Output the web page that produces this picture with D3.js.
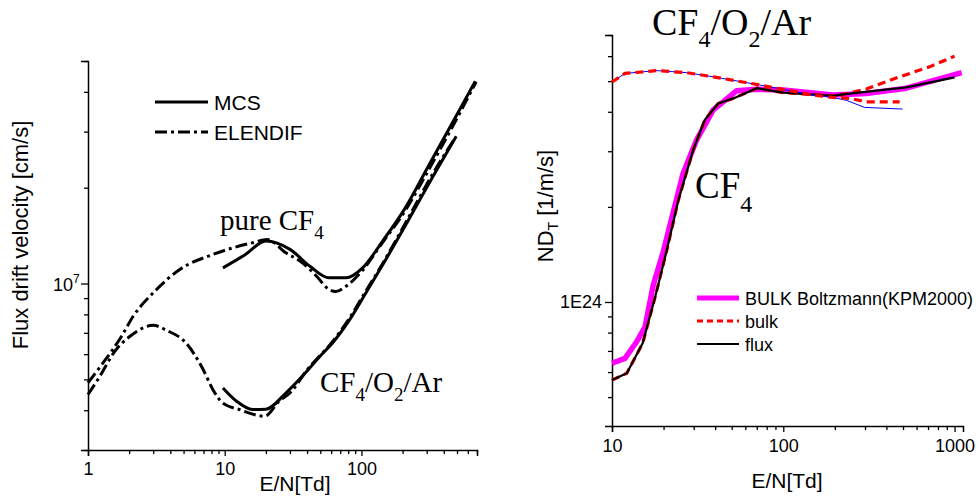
<!DOCTYPE html>
<html>
<head>
<meta charset="utf-8">
<script src="https://cdn.jsdelivr.net/npm/d3@7"></script>
<style>
body { margin: 0; background: #fff; }
svg { display: block; }
text { font-family: "Liberation Sans", Arial, sans-serif; fill: #000; }
.serif { font-family: "Liberation Serif", "Times New Roman", serif; }
</style>
</head>
<body>
<svg id="chart" width="980" height="504"></svg>
<script>
"use strict";
// left panel: flux drift velocity [cm/s] vs E/N [Td]
const pureMCS = [[9.7, 1.12e7], [14, 1.23e7], [20, 1.36e7], [30, 1.28e7], [42, 1.133e7], [58, 1.042e7],
    [77, 1.042e7], [102, 1.12e7], [142, 1.355e7], [206, 1.71e7], [314, 2.37e7], [478, 3.28e7], [680, 4.32e7]];
const pureELENDIF = [[1, 4.88e6], [1.26, 5.56e6], [1.76, 6.83e6], [2.14, 7.89e6], [3.08, 9.46e6], [4.69, 1.107e7],
    [8.2, 1.234e7], [11.5, 1.295e7], [16, 1.343e7], [20.5, 1.375e7], [28, 1.249e7], [37, 1.162e7], [47, 1.054e7],
    [58, 9.57e6], [65, 9.44e6], [77, 9.8e6], [100, 1.09e7], [140, 1.33e7], [210, 1.7e7], [320, 2.33e7],
    [480, 3.2e7], [690, 4.3e7]];
const mixMCS = [[9.7, 4.7e6], [12.2, 4.27e6], [16, 4.02e6], [20, 4.03e6], [28, 4.53e6], [39.7, 5.29e6], [49.4, 5.89e6],
    [61.7, 6.52e6], [82, 7.7e6], [105, 9.17e6], [142, 1.139e7], [224, 1.6e7], [330, 2.154e7], [493, 2.9e7]];
const mixELENDIF = [[1, 4.48e6], [1.22, 5.11e6], [1.57, 6.12e6], [2.03, 6.83e6], [3, 7.39e6], [3.75, 7.13e6],
    [5.2, 6.51e6], [6.95, 5.37e6], [8.2, 4.64e6], [9.7, 4.21e6], [12.8, 4.02e6], [19.6, 3.83e6], [25, 4.27e6],
    [30, 4.53e6], [40, 5.35e6], [62, 6.6e6], [82, 7.8e6], [105, 9.3e6], [142, 1.15e7], [224, 1.63e7],
    [330, 2.2e7], [480, 2.85e7]];
const leftXTicks = [1, 2, 3, 4, 5, 6, 7, 8, 9, 10, 20, 30, 40, 50, 60, 70, 80, 90, 100, 200, 300, 400, 500, 600, 700];
const leftXMajor = [1, 10, 100];
const leftYTicks = [3e6, 4e6, 5e6, 6e6, 7e6, 8e6, 9e6, 1e7, 2e7, 3e7, 4e7, 5e7];
const leftYMajor = [1e7];

// right panel: ND_T [1/m/s] vs E/N [Td]
const mixFlux = [[10, 4.97e24], [11.9, 5.29e24], [18.2, 5.4e24], [27.3, 5.32e24], [39, 5.16e24], [58, 4.97e24],
    [73, 4.86e24], [104, 4.69e24], [149, 4.52e24], [195, 4.44e24], [233, 4.35e24], [298, 4.13e24], [497, 4.08e24]];
const mixBulk = [[10, 4.97e24], [11.9, 5.29e24], [18.2, 5.4e24], [27.3, 5.32e24], [39, 5.16e24], [58, 4.97e24],
    [73, 4.86e24], [104, 4.69e24], [149, 4.52e24], [195, 4.44e24], [244, 4.41e24], [305, 4.3e24], [478, 4.3e24]];
const pureFlux = [[10, 5.66e23], [12.2, 5.95e23], [15.1, 7.4e23], [17.8, 1.03e24], [20.9, 1.46e24], [24.4, 2.1e24],
    [29.8, 3.03e24], [34.8, 3.77e24], [41.7, 4.25e24], [51, 4.41e24], [70, 4.75e24], [100, 4.6e24], [195, 4.49e24],
    [223, 4.54e24], [522, 4.78e24], [1000, 5.14e24]];
const pureBulk = [[10, 5.66e23], [12.2, 5.95e23], [15.1, 7.4e23], [17.8, 1.03e24], [20.9, 1.46e24], [24.4, 2.1e24],
    [29.8, 3.03e24], [34.8, 3.77e24], [41.7, 4.25e24], [51, 4.41e24], [70, 4.75e24], [100, 4.6e24], [195, 4.49e24],
    [223, 4.54e24], [305, 4.72e24], [478, 5.16e24], [714, 5.55e24], [1000, 6.0e24]];
const pureBoltzmann = [[10, 6.4e23], [11.9, 6.63e23], [13.9, 7.47e23], [15.6, 8.35e23], [17.4, 1.13e24],
    [19.9, 1.44e24], [26, 2.55e24], [31.2, 3.26e24], [38.9, 4.05e24], [53.3, 4.66e24], [70, 4.71e24],
    [100, 4.69e24], [195, 4.52e24], [305, 4.57e24], [522, 4.75e24], [1100, 5.32e24]];
const rightXTicks = [10, 20, 30, 40, 50, 60, 70, 80, 90, 100, 200, 300, 400, 500, 600, 700, 800, 900, 1000];
const rightXMajor = [10, 100, 1000];
const rightYTicks = [5e23, 6e23, 7e23, 8e23, 9e23, 1e24, 2e24, 3e24, 4e24, 5e24, 6e24, 7e24];
const rightYMajor = [1e24];

const svg = d3.select("#chart");

const xL = d3.scaleLog().domain([1, 700]).range([88, 477]);
const yL = d3.scaleLog().domain([3e6, 5e7]).range([450, 61]);
const xR = d3.scaleLog().domain([10, 1120]).range([612, 963]);
const yR = d3.scaleLog().domain([4.05e23, 7e24]).range([426, 35]);

function drawAxes(x, y, xTicks, xMajor, yTicks, yMajor, yFormat, xPad) {
    const gx = svg.append("g")
        .attr("transform", "translate(0," + y.range()[0] + ")")
        .call(d3.axisBottom(x).tickValues(xTicks).tickSizeOuter(0).tickSize(6).tickPadding(xPad)
            .tickFormat(d => xMajor.includes(d) ? String(d) : ""));
    gx.selectAll(".tick line").attr("y2", d => xMajor.includes(d) ? 6 : 4);
    const gy = svg.append("g")
        .attr("transform", "translate(" + x.range()[0] + ",0)")
        .call(d3.axisLeft(y).tickValues(yTicks).tickSizeOuter(0).tickSize(7).tickPadding(3)
            .tickFormat(d => yMajor.includes(d) ? yFormat(d) : ""));
    gy.selectAll(".tick line").attr("x2", d => yMajor.includes(d) ? -7 : -4);
    [gx, gy].forEach(g => {
        g.attr("font-family", null).attr("font-size", 18);
        g.select(".domain").attr("stroke", "#000").attr("stroke-width", 1.5);
        g.selectAll(".tick line").attr("stroke", "#000").attr("stroke-width", 1.3);
        g.selectAll(".tick text").attr("fill", "#000");
    });
}

function drawSeries(data, x, y, curve, stroke, width, dash) {
    const line = d3.line().x(d => x(d[0])).y(d => y(d[1])).curve(curve);
    svg.append("path")
        .datum(data)
        .attr("d", line)
        .attr("fill", "none")
        .attr("stroke", stroke)
        .attr("stroke-width", width)
        .attr("stroke-dasharray", dash)
        .attr("stroke-linejoin", "round");
}

function chemLabel(x, y, parts, size, subSize, shift) {
    const t = svg.append("text").attr("class", "serif").attr("x", x).attr("y", y).attr("font-size", size);
    let low = false;
    parts.forEach(p => {
        const sub = p[1];
        const s = t.append("tspan").text(p[0]);
        if (sub) s.attr("font-size", subSize);
        if (sub !== low) s.attr("dy", sub ? shift : -shift);
        low = sub;
    });
}

const dashDot = "12,4,3,4";

// left panel
drawAxes(xL, yL, leftXTicks, leftXMajor, leftYTicks, leftYMajor, () => "", 6);
const y7 = yL(1e7);
svg.append("text").attr("x", 73).attr("y", y7 + 7).attr("font-size", 18).attr("text-anchor", "end").text("10");
svg.append("text").attr("x", 73).attr("y", y7 - 1).attr("font-size", 12).text("7");

drawSeries(pureELENDIF, xL, yL, d3.curveMonotoneX, "#000", 3, dashDot);
drawSeries(mixELENDIF, xL, yL, d3.curveMonotoneX, "#000", 3, dashDot);
drawSeries(pureMCS, xL, yL, d3.curveMonotoneX, "#000", 3, null);
drawSeries(mixMCS, xL, yL, d3.curveMonotoneX, "#000", 3, null);

svg.append("text").attr("x", 295).attr("y", 491).attr("font-size", 21).attr("text-anchor", "middle").text("E/N[Td]");
svg.append("text").attr("transform", "translate(28,235) rotate(-90)").attr("font-size", 22)
    .attr("text-anchor", "middle").text("Flux drift velocity [cm/s]");

const leftLegend = [["MCS", null], ["ELENDIF", dashDot]];
leftLegend.forEach((d, i) => {
    const ly = 102 + i * 30;
    svg.append("line").attr("x1", 155).attr("x2", 208).attr("y1", ly).attr("y2", ly)
        .attr("stroke", "#000").attr("stroke-width", 3).attr("stroke-dasharray", d[1]);
    svg.append("text").attr("x", 214).attr("y", ly + 8).attr("font-size", 21).text(d[0]);
});

chemLabel(220, 230, [["pure CF", false], ["4", true]], 29, 19, 9);
chemLabel(320, 392, [["CF", false], ["4", true], ["/O", false], ["2", true], ["/Ar", false]], 29, 19, 9);

// right panel
drawAxes(xR, yR, rightXTicks, rightXMajor, rightYTicks, rightYMajor, () => "1E24", 7);

drawSeries(pureBoltzmann, xR, yR, d3.curveLinear, "#ff00ff", 5.5, null);
drawSeries(pureBulk, xR, yR, d3.curveLinear, "#ff0000", 3.2, "8,5");
drawSeries(pureFlux, xR, yR, d3.curveLinear, "#000", 2.2, null);
drawSeries(mixFlux, xR, yR, d3.curveLinear, "#0000ff", 1, null);
drawSeries(mixBulk, xR, yR, d3.curveLinear, "#ff0000", 3.2, "8,5");

svg.append("text").attr("x", 787).attr("y", 488).attr("font-size", 21).attr("text-anchor", "middle").text("E/N[Td]");
const yt = svg.append("text").attr("transform", "translate(553,206) rotate(-90)").attr("font-size", 22)
    .attr("text-anchor", "middle");
yt.append("tspan").text("ND");
yt.append("tspan").attr("font-size", 14).attr("dy", 5).text("T");
yt.append("tspan").attr("dy", -5).text(" [1/m/s]");

const rightLegend = [["BULK Boltzmann(KPM2000)", "#ff00ff", 5, null], ["bulk", "#ff0000", 3, "6,4"], ["flux", "#000", 2.2, null]];
rightLegend.forEach((d, i) => {
    const ly = 298 + i * 23;
    svg.append("line").attr("x1", 697).attr("x2", 739).attr("y1", ly).attr("y2", ly)
        .attr("stroke", d[1]).attr("stroke-width", d[2]).attr("stroke-dasharray", d[3]);
    svg.append("text").attr("x", 745).attr("y", ly + 7).attr("font-size", 18).text(d[0]);
});

chemLabel(652, 35, [["CF", false], ["4", true], ["/O", false], ["2", true], ["/Ar", false]], 38, 24, 12);
chemLabel(695, 198, [["CF", false], ["4", true]], 37, 24, 14);
</script>
</body>
</html>
